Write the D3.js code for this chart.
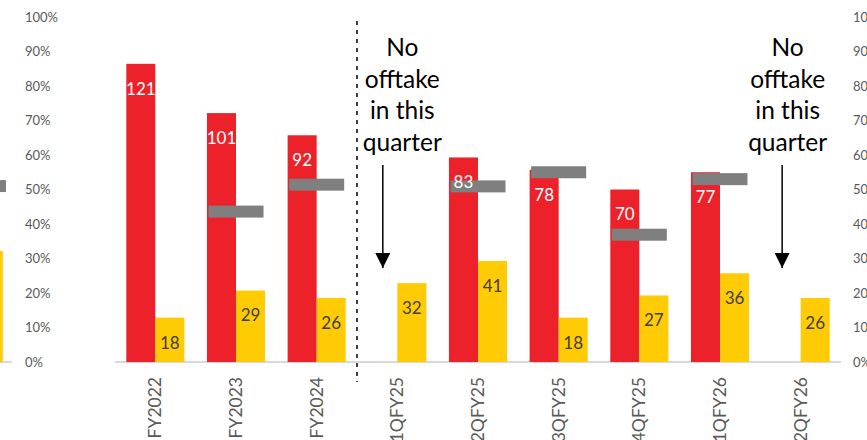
<!DOCTYPE html>
<html>
<head>
<meta charset="utf-8">
<script src="https://cdn.jsdelivr.net/npm/d3@7"></script>
<style>
	body { margin: 0; background: #fff; }
	svg { display: block; font-family: Lato, "Open Sans", sans-serif; }
</style>
</head>
<body>
<svg id="chart" width="867" height="440"></svg>
<script>
var categories = ["FY2022", "FY2023", "FY2024", "1QFY25", "2QFY25", "3QFY25", "4QFY25", "1QFY26", "2QFY26"];
var redValues = [121, 101, 92, null, 83, 78, 70, 77, null];
var yellowValues = [18, 29, 26, 32, 41, 18, 27, 36, 26];
var greyShare = [null, 0.436, 0.514, null, 0.509, 0.550, 0.369, 0.530, null];

// tail end of the neighbouring panel, cut off at the left edge
var prevCategories = ["prev"];
var prevYellow = [45];
var prevGrey = [0.51];

var pctTicks = [0, 0.1, 0.2, 0.3, 0.4, 0.5, 0.6, 0.7, 0.8, 0.9, 1];
var noOfftake = ["1QFY25", "2QFY26"];
var noteLines = ["No", "offtake", "in this", "quarter"];

var red = "#EC2129";
var yellow = "#FFCB05";
var grey = "#7F7F7F";

var svg = d3.select("#chart");

var x = d3.scaleBand().domain(categories).range([115, 841]).paddingInner(0.28).paddingOuter(0.14);
var xPrev = d3.scaleBand().domain(prevCategories).range([-66, 14]).paddingInner(0.28).paddingOuter(0.14);
var y = d3.scaleLinear().domain([0, 140]).range([362, 17]);
var yPct = d3.scaleLinear().domain([0, 1]).range([362, 17]);

var half = x.bandwidth() / 2;

var rows = categories.map(function(c, i) {
	return { cat: c, red: redValues[i], yellow: yellowValues[i], grey: greyShare[i] };
});

// percentage axes: left one belongs to the neighbouring panel, right one runs off the edge
var pctAxis = d3.axisRight(yPct).tickValues(pctTicks).tickFormat(d3.format(".0%")).tickSize(0).tickPadding(0);

[25, 853].forEach(function(ax) {
	var g = svg.append("g").attr("transform", "translate(" + ax + ",0)").call(pctAxis);
	g.select(".domain").remove();
	g.selectAll("text").attr("fill", "#595959").style("font-size", "13px").style("font-family", "Lato, sans-serif");
});

// baselines
svg.append("line").attr("x1", 0).attr("x2", 12).attr("y1", y(0)).attr("y2", y(0))
	.attr("stroke", "#D9D9D9").attr("stroke-width", 2);
svg.append("line").attr("x1", x.range()[0]).attr("x2", x.range()[1]).attr("y1", y(0)).attr("y2", y(0))
	.attr("stroke", "#D9D9D9").attr("stroke-width", 2);

// neighbour panel bits
svg.selectAll(".prev-bar").data(prevCategories).enter().append("rect")
	.attr("class", "prev-bar")
	.attr("x", function(d) { return xPrev(d) + xPrev.bandwidth() / 2; })
	.attr("y", function(d, i) { return y(prevYellow[i]); })
	.attr("width", xPrev.bandwidth() / 2)
	.attr("height", function(d, i) { return y(0) - y(prevYellow[i]); })
	.attr("fill", yellow);
svg.selectAll(".prev-marker").data(prevCategories).enter().append("rect")
	.attr("class", "prev-marker")
	.attr("x", function(d) { return xPrev(d) + xPrev.bandwidth() / 2 - 23; })
	.attr("y", function(d, i) { return yPct(prevGrey[i]) - 6; })
	.attr("width", 55).attr("height", 12)
	.attr("fill", grey);

var bars = svg.append("g");

bars.selectAll(".red").data(rows.filter(function(d) { return d.red != null; })).enter().append("rect")
	.attr("class", "red")
	.attr("x", function(d) { return x(d.cat); })
	.attr("y", function(d) { return y(d.red); })
	.attr("width", half)
	.attr("height", function(d) { return y(0) - y(d.red); })
	.attr("fill", red);

bars.selectAll(".yellow").data(rows).enter().append("rect")
	.attr("class", "yellow")
	.attr("x", function(d) { return x(d.cat) + half; })
	.attr("y", function(d) { return y(d.yellow); })
	.attr("width", half)
	.attr("height", function(d) { return y(0) - y(d.yellow); })
	.attr("fill", yellow);

svg.append("g").selectAll("rect").data(rows.filter(function(d) { return d.grey != null; })).enter().append("rect")
	.attr("x", function(d) { return x(d.cat) + half - 27.5; })
	.attr("y", function(d) { return yPct(d.grey) - 6; })
	.attr("width", 55).attr("height", 12)
	.attr("fill", grey);

// value labels, inside end
var labels = svg.append("g").style("font-size", "17px").attr("text-anchor", "middle");

labels.selectAll(".lr").data(rows.filter(function(d) { return d.red != null; })).enter().append("text")
	.attr("x", function(d) { return x(d.cat) + half / 2; })
	.attr("y", function(d) { return y(d.red) + 25; })
	.attr("dy", "0.35em")
	.attr("fill", "#fff")
	.text(function(d) { return d.red; });

labels.selectAll(".ly").data(rows).enter().append("text")
	.attr("x", function(d) { return x(d.cat) + half * 1.5; })
	.attr("y", function(d) { return y(d.yellow) + 25; })
	.attr("dy", "0.35em")
	.attr("fill", "#404040")
	.text(function(d) { return d.yellow; });

// category labels, rotated
svg.append("g").selectAll("text").data(categories).enter().append("text")
	.attr("transform", function(d) { return "translate(" + (x(d) + half) + ",377) rotate(-90)"; })
	.attr("dy", "0.35em")
	.attr("text-anchor", "end")
	.attr("fill", "#595959")
	.style("font-size", "17.5px")
	.text(function(d) { return d; });

// divider between years and quarters
var divX = (x("FY2024") + x.bandwidth() + x("1QFY25")) / 2;
svg.append("line").attr("x1", divX).attr("x2", divX).attr("y1", 21).attr("y2", 382)
	.attr("stroke", "#000").attr("stroke-width", 1.5).attr("stroke-dasharray", "4,5");

// "no offtake" notes with arrows
var noteShift = { "1QFY25": 5, "2QFY26": -13 };
var arrowShift = { "1QFY25": 0, "2QFY26": -4 };

svg.append("defs").append("marker")
	.attr("id", "head").attr("viewBox", "0 0 10 10").attr("refX", 10).attr("refY", 5)
	.attr("markerWidth", 15).attr("markerHeight", 15).attr("markerUnits", "userSpaceOnUse")
	.attr("orient", "auto")
	.append("path").attr("d", "M0,0L10,5L0,10Z").attr("fill", "#000");

noOfftake.forEach(function(c) {
	var cx = x(c) + half;
	var t = svg.append("text")
		.attr("text-anchor", "middle")
		.attr("fill", "#000")
		.style("font-size", "24.5px");
	t.selectAll("tspan").data(noteLines).enter().append("tspan")
		.attr("x", cx + noteShift[c])
		.attr("y", function(d, i) { return 56 + i * 31.5; })
		.text(function(d) { return d; });

	var ax = x(c) + half / 2 + arrowShift[c];
	svg.append("line").attr("x1", ax).attr("x2", ax).attr("y1", 165).attr("y2", 268)
		.attr("stroke", "#000").attr("stroke-width", 1.5)
		.attr("marker-end", "url(#head)");
});
</script>
</body>
</html>
